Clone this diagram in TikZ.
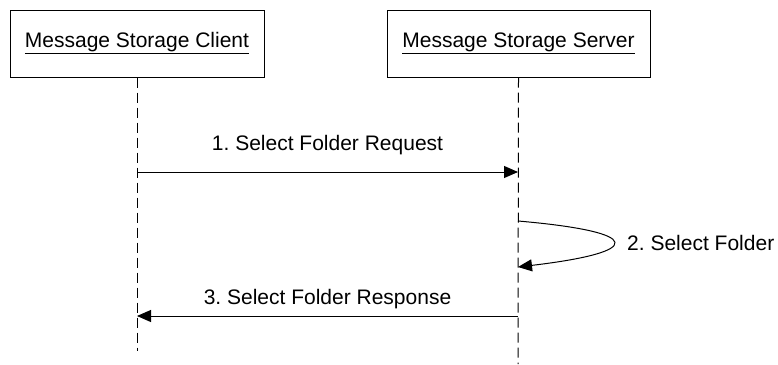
\documentclass[tikz,border=0pt]{standalone}
\usepackage{fontspec}
\setmainfont{Liberation Sans}
\usetikzlibrary{arrows.meta}
\begin{document}
\frenchspacing
\begin{tikzpicture}[x=1pt,y=-1pt,
  actor/.style={draw,line width=1pt,minimum width=254pt,minimum height=67pt,inner sep=0pt,font=\fontsize{21}{25}\selectfont},
  life/.style={line width=1pt,dash pattern=on 10pt off 5pt},
  msg/.style={line width=1pt,-{Triangle[length=14pt,width=12pt]}},
  lbl/.style={font=\fontsize{21}{25}\selectfont}]
\useasboundingbox (0,0) rectangle (778,364);
\node[actor] (client) at (137,43.5) {\underline{Message Storage Client}};
\node[actor,minimum width=263pt] (server) at (518.5,43.5) {\underline{Message Storage Server}};
\coordinate (cend) at (137,351);
\coordinate (send) at (518,364);
\draw[life] (client.south) -- (cend);
\draw[life] (server.south) -- (send);
\coordinate (c1) at (137,172);
\coordinate (s1) at (518,172);
\draw[msg] (c1) -- (s1) node[lbl,midway,above=13pt] {1. Select Folder Request};
\coordinate (s2a) at (518,221);
\coordinate (s2b) at (518,267);
\draw[msg] (s2a) .. controls (645,232) and (645,252) .. (s2b);
\node[lbl,anchor=west,inner sep=0pt] (l2) at (627,243) {2. Select Folder};
\coordinate (s3) at (518,316);
\coordinate (c3) at (137,316);
\draw[msg] (s3) -- (c3) node[lbl,midway,above=3pt] {3. Select Folder Response};
\end{tikzpicture}
\end{document}
